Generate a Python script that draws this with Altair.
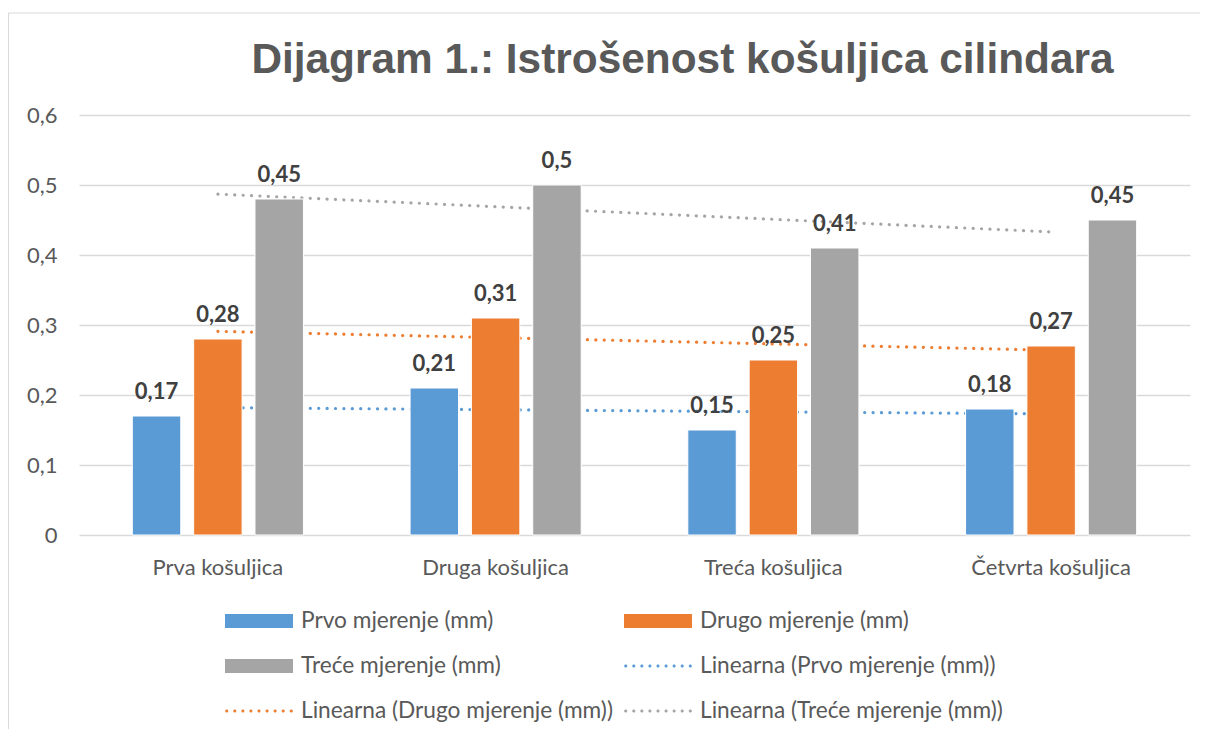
import altair as alt
import pandas as pd

categories = ["Prva košuljica", "Druga košuljica", "Treća košuljica", "Četvrta košuljica"]
cat_index = [1, 2, 3, 4]
series = ["Prvo mjerenje (mm)", "Drugo mjerenje (mm)", "Treće mjerenje (mm)"]
prvo = [0.17, 0.21, 0.15, 0.18]
drugo = [0.28, 0.31, 0.25, 0.27]
trece = [0.48, 0.50, 0.41, 0.45]
# data labels as printed on the chart
prvo_lbl = [0.17, 0.21, 0.15, 0.18]
drugo_lbl = [0.28, 0.31, 0.25, 0.27]
trece_lbl = [0.45, 0.5, 0.41, 0.45]
y_ticks = [0, 0.1, 0.2, 0.3, 0.4, 0.5, 0.6]
colors = ["#5B9BD5", "#ED7D31", "#A5A5A5"]
trend_names = ["Linearna (" + s + ")" for s in series]

rows = []
for s, vals, lbls in zip(series, [prvo, drugo, trece], [prvo_lbl, drugo_lbl, trece_lbl]):
    for c, i, v, l in zip(categories, cat_index, vals, lbls):
        rows.append({"cat": c, "idx": i, "series": s, "value": v, "label": l})
df = pd.DataFrame(rows)

FONT = "Lato"
FS = 22
LFS = 22.7
TXT = "#595959"

color_scale = alt.Scale(domain=series + trend_names, range=colors + colors)

# legend symbol shapes (unit box -1..1 scaled to 68 px)
r = 0.046
dot_path = ""
for k in range(9):
    cx = -0.95 + k * (1.9 / 8)
    dot_path += f"M{cx - r:.3f},0a{r},{r} 0 1,0 {2 * r:.3f},0a{r},{r} 0 1,0 {-2 * r:.3f},0"
bar_path = "M-1,-0.206H1V0.206H-1Z"

is_line = "indexof(datum.value, 'Linearna') === 0"
legend = alt.Legend(
    title=None, orient="none", legendX=146, legendY=494, columns=2, direction="horizontal",
    columnPadding=11, rowPadding=21, clipHeight=24, padding=0,
    labelFont=FONT, labelFontSize=LFS, labelColor=TXT, labelOffset=8,
    symbolSize=4624, labelLimit=500, symbolOpacity=1,
    symbolType=alt.ExprRef(expr=f"{is_line} ? '{dot_path}' : '{bar_path}'"),
    symbolFillColor=alt.ExprRef(expr="scale('color', datum.value)"),
    symbolStrokeColor="transparent",
    symbolStrokeWidth=0,
)

x_scale = alt.Scale(paddingInner=0.384, paddingOuter=0.192)
xo_scale = alt.Scale(paddingInner=0.21, paddingOuter=0)
y_scale = alt.Scale(domain=[0, 0.6], nice=False)

base = alt.Chart(df)

trend = base.transform_regression(
    "idx", "value", groupby=["series"], method="linear", extent=[1, 4]
).transform_calculate(
    trend="'Linearna (' + datum.series + ')'"
).mark_line(strokeDash=[0.1, 8.3], strokeCap="round", strokeWidth=3.2).encode(
    x=alt.X("idx:Q", scale=alt.Scale(domain=[0.5, 4.5], nice=False, zero=False), axis=None),
    y=alt.Y("value:Q", scale=y_scale),
    color=alt.Color("trend:N", scale=color_scale, legend=legend),
    detail="trend:N",
)

bars = base.mark_bar(stroke="white", strokeWidth=1).encode(
    x=alt.X("cat:N", sort=categories, scale=x_scale, title=None,
            axis=alt.Axis(labelAngle=0, labelFont=FONT, labelFontSize=FS, labelColor=TXT,
                          labelPadding=22, ticks=False, tickSize=0, domain=False)),
    xOffset=alt.XOffset("series:N", sort=series, scale=xo_scale),
    y=alt.Y("value:Q", scale=y_scale, title=None,
            axis=alt.Axis(values=y_ticks, labelExpr="replace(format(datum.value, '.1~f'), '.', ',')",
                          labelFont=FONT, labelFontSize=FS, labelColor=TXT, labelPadding=22,
                          ticks=False, tickSize=0, domain=False, grid=True,
                          gridColor="#d9d9d9", gridWidth=1.5)),
    color=alt.Color("series:N", scale=color_scale, legend=legend),
)

labels = base.transform_calculate(
    txt="replace(toString(datum.label), '.', ',')"
).mark_text(font=FONT, fontSize=FS, fontWeight="bold", color="#404040",
            baseline="alphabetic", dy=-17).encode(
    x=alt.X("cat:N", sort=categories, scale=x_scale, axis=None),
    xOffset=alt.XOffset("series:N", sort=series, scale=xo_scale),
    y=alt.Y("value:Q", scale=y_scale),
    text="txt:N",
)

frame_df = pd.DataFrame({"k": [0]})
border_v = alt.Chart(frame_df).mark_rule(color="#d9d9d9", strokeWidth=1).encode(
    x=alt.value(-70.5), y=alt.value(-102), y2=alt.value(614))
border_h = alt.Chart(frame_df).mark_rule(color="#d9d9d9", strokeWidth=1).encode(
    x=alt.value(-70.5), x2=alt.value(1121), y=alt.value(-102))

chart = alt.layer(border_v, border_h, trend, bars, labels).resolve_scale(
    x="independent"
).properties(
    width=1111, height=420,
    padding={"left": 0, "top": 4, "right": 0, "bottom": 0},
    title=alt.TitleParams(
        "Dijagram 1.: Istrošenost košuljica cilindara",
        font="Liberation Sans", fontSize=42.4, fontWeight="bold", color=TXT,
        anchor="middle", frame="group", dx=48, offset=0, dy=103, baseline="alphabetic",
    ),
).configure_view(stroke=None)

chart.save("out.html", embed_options={"renderer": "svg", "actions": False})
